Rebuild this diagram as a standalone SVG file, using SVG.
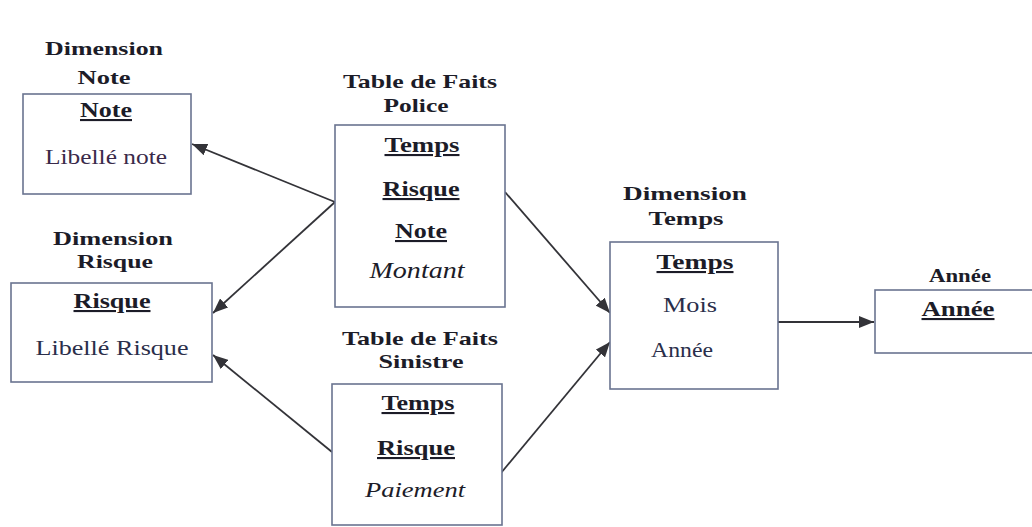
<svg xmlns="http://www.w3.org/2000/svg" width="1032" height="527" viewBox="0 0 1032 527" font-family="'Liberation Serif', 'DejaVu Serif', 'Times New Roman', serif">
  <defs>
    <marker id="arrow" markerUnits="userSpaceOnUse" markerWidth="16" markerHeight="12" refX="15" refY="6" orient="auto">
      <path d="M0,0 L15,6 L0,12 Z" fill="#333338"/>
    </marker>
    <style>
      text { font-family: 'Liberation Serif', 'DejaVu Serif', 'Times New Roman', serif; text-anchor: middle; }
      .box { fill: #ffffff; stroke: #6a7490; stroke-width: 1.6; }
      .title { font-weight: bold; font-size: 19px; fill: #1c1c28; }
      .key { font-weight: bold; font-size: 21px; fill: #1c1c28; text-decoration: underline; }
      .attr { font-size: 21px; fill: #2a2e4a; }
      .measure { font-style: italic; font-size: 23px; fill: #1c1c28; }
      .link { stroke: #333338; stroke-width: 1.8; fill: none; marker-end: url(#arrow); }
    </style>
  </defs>
  <rect width="1032" height="527" fill="#ffffff"/>

  <!-- Connectors -->
  <g id="connectors">
    <line class="link" x1="335" y1="202" x2="192" y2="144"/>
    <line class="link" x1="335" y1="202" x2="213" y2="313"/>
    <line class="link" x1="332" y1="452" x2="213" y2="355"/>
    <line class="link" x1="505" y1="192" x2="610" y2="313"/>
    <line class="link" x1="501" y1="473" x2="610" y2="342"/>
    <line class="link" x1="778" y1="322" x2="874" y2="322"/>
  </g>

  <!-- Dimension Note -->
  <g id="dim-note">
    <text class="title" x="104" y="55" textLength="118" lengthAdjust="spacingAndGlyphs">Dimension</text>
    <text class="title" x="104" y="84" textLength="53" lengthAdjust="spacingAndGlyphs">Note</text>
    <rect class="box" x="23" y="94" width="168" height="100"/>
    <text class="key" x="106" y="117" textLength="52" lengthAdjust="spacingAndGlyphs">Note</text>
    <text class="attr" x="106" y="164" textLength="122" lengthAdjust="spacingAndGlyphs" style="fill:#3a2a4a">Libellé note</text>
  </g>

  <!-- Table de Faits Police -->
  <g id="fact-police">
    <text class="title" x="420" y="88" textLength="154" lengthAdjust="spacingAndGlyphs">Table de Faits</text>
    <text class="title" x="416" y="112" textLength="65" lengthAdjust="spacingAndGlyphs">Police</text>
    <rect class="box" x="335" y="125" width="170" height="182"/>
    <text class="key" x="422" y="152" textLength="75" lengthAdjust="spacingAndGlyphs">Temps</text>
    <text class="key" x="421" y="196" textLength="77" lengthAdjust="spacingAndGlyphs">Risque</text>
    <text class="key" x="421" y="238" textLength="52" lengthAdjust="spacingAndGlyphs">Note</text>
    <text class="measure" x="417" y="278" textLength="95" lengthAdjust="spacingAndGlyphs">Montant</text>
  </g>

  <!-- Dimension Risque -->
  <g id="dim-risque">
    <text class="title" x="113" y="245" textLength="120" lengthAdjust="spacingAndGlyphs">Dimension</text>
    <text class="title" x="115" y="268" textLength="76" lengthAdjust="spacingAndGlyphs">Risque</text>
    <rect class="box" x="11" y="283" width="201" height="99"/>
    <text class="key" x="112" y="308" textLength="77" lengthAdjust="spacingAndGlyphs">Risque</text>
    <text class="attr" x="112" y="355" textLength="153" lengthAdjust="spacingAndGlyphs">Libellé Risque</text>
  </g>

  <!-- Table de Faits Sinistre -->
  <g id="fact-sinistre">
    <text class="title" x="420" y="345" textLength="156" lengthAdjust="spacingAndGlyphs">Table de Faits</text>
    <text class="title" x="421" y="368" textLength="85" lengthAdjust="spacingAndGlyphs">Sinistre</text>
    <rect class="box" x="332" y="384" width="170" height="141"/>
    <text class="key" x="418" y="410" textLength="73" lengthAdjust="spacingAndGlyphs">Temps</text>
    <text class="key" x="416" y="455" textLength="78" lengthAdjust="spacingAndGlyphs">Risque</text>
    <text class="measure" x="415" y="497" textLength="100" lengthAdjust="spacingAndGlyphs" style="font-size:20px">Paiement</text>
  </g>

  <!-- Dimension Temps -->
  <g id="dim-temps">
    <text class="title" x="685" y="200" textLength="124" lengthAdjust="spacingAndGlyphs">Dimension</text>
    <text class="title" x="686" y="225" textLength="75" lengthAdjust="spacingAndGlyphs">Temps</text>
    <rect class="box" x="610" y="242" width="168" height="147"/>
    <text class="key" x="695" y="269" textLength="77" lengthAdjust="spacingAndGlyphs">Temps</text>
    <text class="attr" x="690" y="312" textLength="54" lengthAdjust="spacingAndGlyphs">Mois</text>
    <text class="attr" x="682" y="357" textLength="62" lengthAdjust="spacingAndGlyphs">Année</text>
  </g>

  <!-- Année -->
  <g id="dim-annee">
    <text class="title" x="960" y="282" textLength="62" lengthAdjust="spacingAndGlyphs">Année</text>
    <rect class="box" x="875" y="290" width="170" height="63"/>
    <text class="key" x="958" y="316" textLength="73" lengthAdjust="spacingAndGlyphs">Année</text>
  </g>
</svg>
